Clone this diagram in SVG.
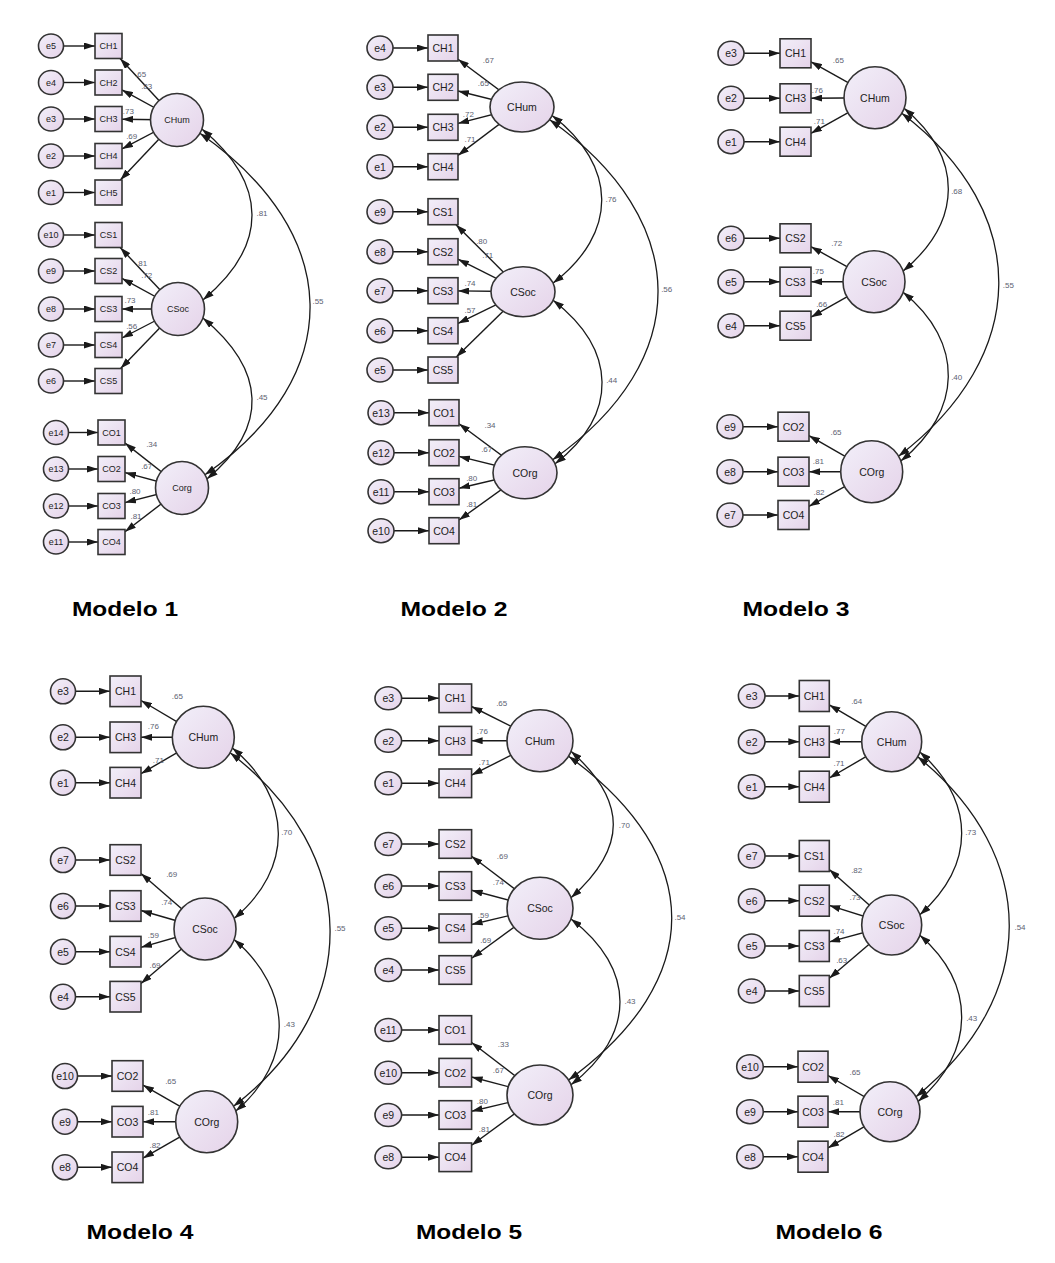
<svg xmlns="http://www.w3.org/2000/svg" width="1055" height="1263" viewBox="0 0 1055 1263">
<style>
.bg{fill:#fff}
.n{fill:url(#g);stroke:#333;stroke-width:1.6}
.c{stroke:#1a1a1a;stroke-width:1.4;fill:none;marker-end:url(#ah)}
.v{stroke:#1a1a1a;stroke-width:1.3;fill:none;marker-start:url(#ah);marker-end:url(#ah)}
.t{font-family:"Liberation Sans",Arial,sans-serif;font-size:10.5px;fill:#222;text-anchor:middle;dominant-baseline:central}
.s{font-size:9px}
.k{font-family:"Liberation Sans",Arial,sans-serif;font-size:8px;fill:#5c6272;text-anchor:middle;dominant-baseline:central}
.h{font-family:"Liberation Sans",Arial,sans-serif;font-size:21px;font-weight:bold;fill:#000;text-anchor:middle}
</style>
<defs>
<linearGradient id="g" x1="0" y1="0" x2="1" y2="1">
<stop offset="0" stop-color="#f2eff9"/>
<stop offset="1" stop-color="#e5d3e9"/>
</linearGradient>
<marker id="ah" viewBox="0 0 11 7" refX="11" refY="3.5" markerWidth="11" markerHeight="7" orient="auto-start-reverse" markerUnits="userSpaceOnUse">
<path d="M0 0L11 3.5L0 7z" fill="#1a1a1a"/>
</marker>
</defs>
<rect class="bg" x="0" y="0" width="1055" height="1263"/>

<!-- ================= MODELO 1 ================= -->
<g id="m1">
<g id="m1-connectors">
<path class="c" d="M63.5 46H95"/><path class="c" d="M63.5 82.5H95"/><path class="c" d="M63.5 119H95"/><path class="c" d="M63.5 156H95"/><path class="c" d="M63.5 192.5H95"/>
<path class="c" d="M63.5 235H95"/><path class="c" d="M63.5 271H95"/><path class="c" d="M63.5 309H95"/><path class="c" d="M63.5 345H95"/><path class="c" d="M63.5 381H95"/>
<path class="c" d="M68.5 432.5H98"/><path class="c" d="M68.5 469H98"/><path class="c" d="M68.5 506H98"/><path class="c" d="M68.5 542H98"/>
<path class="c" d="M177 120L120.1 58.5"/><path class="c" d="M177 120L122 89.9"/><path class="c" d="M177 120L122 119.2"/><path class="c" d="M177 120L122 148.9"/><path class="c" d="M177 120L120.3 180"/>
<path class="c" d="M178 309L120.2 247.5"/><path class="c" d="M178 309L122 278.4"/><path class="c" d="M178 309L122 309"/><path class="c" d="M178 309L122 338"/><path class="c" d="M178 309L120.6 368.5"/>
<path class="c" d="M182 488L125 443.1"/><path class="c" d="M182 488L125 472.6"/><path class="c" d="M182 488L125 502.6"/><path class="c" d="M182 488L125 531.7"/>
<path class="v" d="M201.9 129.1C268 184 269 245 202.9 299.9"/>
<path class="v" d="M202.9 318.1C265.7 370 269.7 427 206.9 478.9"/>
<path class="v" d="M199.9 133.3C343.4 233 348.4 375 204.9 474.8"/>
</g>
<g id="m1-labels">
<text class="k" x="140.7" y="74.3">.65</text><text class="k" x="146.7" y="86.7">.83</text><text class="k" x="128.3" y="111.7">.73</text><text class="k" x="131.7" y="136.7">.69</text>
<text class="k" x="141.7" y="263.3">.81</text><text class="k" x="146.7" y="275">.72</text><text class="k" x="130" y="300.7">.73</text><text class="k" x="131.7" y="326">.56</text>
<text class="k" x="151.7" y="444">.34</text><text class="k" x="146.7" y="466.7">.67</text><text class="k" x="135" y="491.7">.80</text><text class="k" x="136" y="516.7">.81</text>
<text class="k" x="262" y="213">.81</text><text class="k" x="262" y="397">.45</text><text class="k" x="318" y="301">.55</text>
</g>
<g id="m1-e5"><ellipse class="n" cx="51" cy="46" rx="12.5" ry="12"/><text class="t s" x="51" y="46">e5</text></g>
<g id="m1-e4"><ellipse class="n" cx="51" cy="82.5" rx="12.5" ry="12"/><text class="t s" x="51" y="82.5">e4</text></g>
<g id="m1-e3"><ellipse class="n" cx="51" cy="119" rx="12.5" ry="12"/><text class="t s" x="51" y="119">e3</text></g>
<g id="m1-e2"><ellipse class="n" cx="51" cy="156" rx="12.5" ry="12"/><text class="t s" x="51" y="156">e2</text></g>
<g id="m1-e1"><ellipse class="n" cx="51" cy="192.5" rx="12.5" ry="12"/><text class="t s" x="51" y="192.5">e1</text></g>
<g id="m1-e10"><ellipse class="n" cx="51" cy="235" rx="12.5" ry="12"/><text class="t s" x="51" y="235">e10</text></g>
<g id="m1-e9"><ellipse class="n" cx="51" cy="271" rx="12.5" ry="12"/><text class="t s" x="51" y="271">e9</text></g>
<g id="m1-e8"><ellipse class="n" cx="51" cy="309" rx="12.5" ry="12"/><text class="t s" x="51" y="309">e8</text></g>
<g id="m1-e7"><ellipse class="n" cx="51" cy="345" rx="12.5" ry="12"/><text class="t s" x="51" y="345">e7</text></g>
<g id="m1-e6"><ellipse class="n" cx="51" cy="381" rx="12.5" ry="12"/><text class="t s" x="51" y="381">e6</text></g>
<g id="m1-e14"><ellipse class="n" cx="56" cy="432.5" rx="12.5" ry="12"/><text class="t s" x="56" y="432.5">e14</text></g>
<g id="m1-e13"><ellipse class="n" cx="56" cy="469" rx="12.5" ry="12"/><text class="t s" x="56" y="469">e13</text></g>
<g id="m1-e12"><ellipse class="n" cx="56" cy="506" rx="12.5" ry="12"/><text class="t s" x="56" y="506">e12</text></g>
<g id="m1-e11"><ellipse class="n" cx="56" cy="542" rx="12.5" ry="12"/><text class="t s" x="56" y="542">e11</text></g>
<g id="m1-CH1"><rect class="n" x="95" y="33.5" width="27" height="25"/><text class="t s" x="108.5" y="46">CH1</text></g>
<g id="m1-CH2"><rect class="n" x="95" y="70" width="27" height="25"/><text class="t s" x="108.5" y="82.5">CH2</text></g>
<g id="m1-CH3"><rect class="n" x="95" y="106.5" width="27" height="25"/><text class="t s" x="108.5" y="119">CH3</text></g>
<g id="m1-CH4"><rect class="n" x="95" y="143.5" width="27" height="25"/><text class="t s" x="108.5" y="156">CH4</text></g>
<g id="m1-CH5"><rect class="n" x="95" y="180" width="27" height="25"/><text class="t s" x="108.5" y="192.5">CH5</text></g>
<g id="m1-CS1"><rect class="n" x="95" y="222.5" width="27" height="25"/><text class="t s" x="108.5" y="235">CS1</text></g>
<g id="m1-CS2"><rect class="n" x="95" y="258.5" width="27" height="25"/><text class="t s" x="108.5" y="271">CS2</text></g>
<g id="m1-CS3"><rect class="n" x="95" y="296.5" width="27" height="25"/><text class="t s" x="108.5" y="309">CS3</text></g>
<g id="m1-CS4"><rect class="n" x="95" y="332.5" width="27" height="25"/><text class="t s" x="108.5" y="345">CS4</text></g>
<g id="m1-CS5"><rect class="n" x="95" y="368.5" width="27" height="25"/><text class="t s" x="108.5" y="381">CS5</text></g>
<g id="m1-CO1"><rect class="n" x="98" y="420" width="27" height="25"/><text class="t s" x="111.5" y="432.5">CO1</text></g>
<g id="m1-CO2"><rect class="n" x="98" y="456.5" width="27" height="25"/><text class="t s" x="111.5" y="469">CO2</text></g>
<g id="m1-CO3"><rect class="n" x="98" y="493.5" width="27" height="25"/><text class="t s" x="111.5" y="506">CO3</text></g>
<g id="m1-CO4"><rect class="n" x="98" y="529.5" width="27" height="25"/><text class="t s" x="111.5" y="542">CO4</text></g>
<g id="m1-CHum"><ellipse class="n" cx="177" cy="120" rx="26.5" ry="26.5"/><text class="t s" x="177" y="120">CHum</text></g>
<g id="m1-CSoc"><ellipse class="n" cx="178" cy="309" rx="26.5" ry="26.5"/><text class="t s" x="178" y="309">CSoc</text></g>
<g id="m1-Corg"><ellipse class="n" cx="182" cy="488" rx="26.5" ry="26.5"/><text class="t s" x="182" y="488">Corg</text></g>
<text id="m1-title" class="h" x="125" y="616" textLength="106" lengthAdjust="spacingAndGlyphs">Modelo 1</text>
</g>

<!-- ================= MODELO 2 ================= -->
<g id="m2">
<g id="m2-connectors">
<path class="c" d="M393 48H428"/><path class="c" d="M393 87.3H428"/><path class="c" d="M393 127.3H428"/><path class="c" d="M393 166.7H428"/>
<path class="c" d="M393 211.7H428"/><path class="c" d="M393 251.7H428"/><path class="c" d="M393 290.7H428"/><path class="c" d="M393 330.7H428"/><path class="c" d="M393 370H428"/>
<path class="c" d="M394 412.7H429"/><path class="c" d="M394 452.7H429"/><path class="c" d="M394 491.7H429"/><path class="c" d="M394 530.7H429"/>
<path class="c" d="M522 107L458 59.2"/><path class="c" d="M522 107L458 91"/><path class="c" d="M522 107L458 123.4"/><path class="c" d="M522 107L458 155.4"/>
<path class="c" d="M523 291.7L456 224.7"/><path class="c" d="M523 291.7L458 259.2"/><path class="c" d="M523 291.7L458 290.9"/><path class="c" d="M523 291.7L458 323.4"/><path class="c" d="M523 291.7L456.3 357"/>
<path class="c" d="M525 472.7L459 423.8"/><path class="c" d="M525 472.7L459 456.4"/><path class="c" d="M525 472.7L459 488.2"/><path class="c" d="M525 472.7L459 520"/>
<path class="v" d="M552.1 115.6C617.6 165.6 618.6 233.1 553.1 283.1"/>
<path class="v" d="M553.1 300.3C617 350 619 414 555.1 463.8"/>
<path class="v" d="M549.7 119.8C692.1 219.8 695.1 359.7 552.7 459.7"/>
</g>
<g id="m2-labels">
<text class="k" x="488.3" y="60">.67</text><text class="k" x="483.3" y="83.3">.65</text><text class="k" x="468.3" y="114">.72</text><text class="k" x="470" y="139.3">.71</text>
<text class="k" x="481.7" y="241.7">.80</text><text class="k" x="487.7" y="255">.71</text><text class="k" x="470" y="283.3">.74</text><text class="k" x="470" y="310.7">.57</text>
<text class="k" x="490" y="425">.34</text><text class="k" x="486.7" y="449.3">.67</text><text class="k" x="471.7" y="478.3">.80</text><text class="k" x="471.7" y="504">.81</text>
<text class="k" x="611" y="199">.76</text><text class="k" x="611.7" y="380.7">.44</text><text class="k" x="666.7" y="289.3">.56</text>
</g>
<g id="m2-e4"><ellipse class="n" cx="380" cy="48" rx="13" ry="12"/><text class="t" x="380" y="48">e4</text></g>
<g id="m2-e3"><ellipse class="n" cx="380" cy="87.3" rx="13" ry="12"/><text class="t" x="380" y="87.3">e3</text></g>
<g id="m2-e2"><ellipse class="n" cx="380" cy="127.3" rx="13" ry="12"/><text class="t" x="380" y="127.3">e2</text></g>
<g id="m2-e1"><ellipse class="n" cx="380" cy="166.7" rx="13" ry="12"/><text class="t" x="380" y="166.7">e1</text></g>
<g id="m2-e9"><ellipse class="n" cx="380" cy="211.7" rx="13" ry="12"/><text class="t" x="380" y="211.7">e9</text></g>
<g id="m2-e8"><ellipse class="n" cx="380" cy="251.7" rx="13" ry="12"/><text class="t" x="380" y="251.7">e8</text></g>
<g id="m2-e7"><ellipse class="n" cx="380" cy="290.7" rx="13" ry="12"/><text class="t" x="380" y="290.7">e7</text></g>
<g id="m2-e6"><ellipse class="n" cx="380" cy="330.7" rx="13" ry="12"/><text class="t" x="380" y="330.7">e6</text></g>
<g id="m2-e5"><ellipse class="n" cx="380" cy="370" rx="13" ry="12"/><text class="t" x="380" y="370">e5</text></g>
<g id="m2-e13"><ellipse class="n" cx="381" cy="412.7" rx="13" ry="12"/><text class="t" x="381" y="412.7">e13</text></g>
<g id="m2-e12"><ellipse class="n" cx="381" cy="452.7" rx="13" ry="12"/><text class="t" x="381" y="452.7">e12</text></g>
<g id="m2-e11"><ellipse class="n" cx="381" cy="491.7" rx="13" ry="12"/><text class="t" x="381" y="491.7">e11</text></g>
<g id="m2-e10"><ellipse class="n" cx="381" cy="530.7" rx="13" ry="12"/><text class="t" x="381" y="530.7">e10</text></g>
<g id="m2-CH1"><rect class="n" x="428" y="35" width="30" height="26"/><text class="t" x="443" y="48">CH1</text></g>
<g id="m2-CH2"><rect class="n" x="428" y="74.3" width="30" height="26"/><text class="t" x="443" y="87.3">CH2</text></g>
<g id="m2-CH3"><rect class="n" x="428" y="114.3" width="30" height="26"/><text class="t" x="443" y="127.3">CH3</text></g>
<g id="m2-CH4"><rect class="n" x="428" y="153.7" width="30" height="26"/><text class="t" x="443" y="166.7">CH4</text></g>
<g id="m2-CS1"><rect class="n" x="428" y="198.7" width="30" height="26"/><text class="t" x="443" y="211.7">CS1</text></g>
<g id="m2-CS2"><rect class="n" x="428" y="238.7" width="30" height="26"/><text class="t" x="443" y="251.7">CS2</text></g>
<g id="m2-CS3"><rect class="n" x="428" y="277.7" width="30" height="26"/><text class="t" x="443" y="290.7">CS3</text></g>
<g id="m2-CS4"><rect class="n" x="428" y="317.7" width="30" height="26"/><text class="t" x="443" y="330.7">CS4</text></g>
<g id="m2-CS5"><rect class="n" x="428" y="357" width="30" height="26"/><text class="t" x="443" y="370">CS5</text></g>
<g id="m2-CO1"><rect class="n" x="429" y="399.7" width="30" height="26"/><text class="t" x="444" y="412.7">CO1</text></g>
<g id="m2-CO2"><rect class="n" x="429" y="439.7" width="30" height="26"/><text class="t" x="444" y="452.7">CO2</text></g>
<g id="m2-CO3"><rect class="n" x="429" y="478.7" width="30" height="26"/><text class="t" x="444" y="491.7">CO3</text></g>
<g id="m2-CO4"><rect class="n" x="429" y="517.7" width="30" height="26"/><text class="t" x="444" y="530.7">CO4</text></g>
<g id="m2-CHum"><ellipse class="n" cx="522" cy="107" rx="32" ry="25"/><text class="t" x="522" y="107">CHum</text></g>
<g id="m2-CSoc"><ellipse class="n" cx="523" cy="291.7" rx="32" ry="25"/><text class="t" x="523" y="291.7">CSoc</text></g>
<g id="m2-COrg"><ellipse class="n" cx="525" cy="472.7" rx="32" ry="26"/><text class="t" x="525" y="472.7">COrg</text></g>
<text id="m2-title" class="h" x="454" y="616" textLength="107" lengthAdjust="spacingAndGlyphs">Modelo 2</text>
</g>

<!-- ================= MODELO 3 ================= -->
<g id="m3">
<g id="m3-connectors">
<path class="c" d="M744 53.3H780"/><path class="c" d="M744 98.3H780"/><path class="c" d="M744 141.7H780"/>
<path class="c" d="M744 238.3H780"/><path class="c" d="M744 281.7H780"/><path class="c" d="M744 325.7H780"/>
<path class="c" d="M743 426.7H778"/><path class="c" d="M743 471.7H778"/><path class="c" d="M743 515H778"/>
<path class="c" d="M875 97.7L811 61.8"/><path class="c" d="M875 97.7L811 98.2"/><path class="c" d="M875 97.7L811 133.3"/>
<path class="c" d="M874 281.7L811 246.7"/><path class="c" d="M874 281.7L811 281.7"/><path class="c" d="M874 281.7L811 317.2"/>
<path class="c" d="M871.7 471.7L809 435.7"/><path class="c" d="M871.7 471.7L809 471.7"/><path class="c" d="M871.7 471.7L809 506.3"/>
<path class="v" d="M904.1 108.3C963.7 158.3 962.7 221.1 903.1 271.1"/>
<path class="v" d="M903.1 292.3C964.9 342.3 962.6 411.1 900.8 461.1"/>
<path class="v" d="M901.8 113.2C1033.3 213.2 1030 356.2 898.5 456.2"/>
</g>
<g id="m3-labels">
<text class="k" x="838.3" y="60">.65</text><text class="k" x="817.3" y="90">.76</text><text class="k" x="819.3" y="121">.71</text>
<text class="k" x="836.7" y="243.3">.72</text><text class="k" x="818.3" y="271">.75</text><text class="k" x="821.7" y="304">.66</text>
<text class="k" x="836" y="432.3">.65</text><text class="k" x="818.3" y="461.7">.81</text><text class="k" x="819" y="492.7">.82</text>
<text class="k" x="956.7" y="191.7">.68</text><text class="k" x="956.7" y="377.3">.40</text><text class="k" x="1008.3" y="285">.55</text>
</g>
<g id="m3-e3"><ellipse class="n" cx="731" cy="53.3" rx="13" ry="12"/><text class="t" x="731" y="53.3">e3</text></g>
<g id="m3-e2"><ellipse class="n" cx="731" cy="98.3" rx="13" ry="12"/><text class="t" x="731" y="98.3">e2</text></g>
<g id="m3-e1"><ellipse class="n" cx="731" cy="141.7" rx="13" ry="12"/><text class="t" x="731" y="141.7">e1</text></g>
<g id="m3-e6"><ellipse class="n" cx="731" cy="238.3" rx="13" ry="12"/><text class="t" x="731" y="238.3">e6</text></g>
<g id="m3-e5"><ellipse class="n" cx="731" cy="281.7" rx="13" ry="12"/><text class="t" x="731" y="281.7">e5</text></g>
<g id="m3-e4"><ellipse class="n" cx="731" cy="325.7" rx="13" ry="12"/><text class="t" x="731" y="325.7">e4</text></g>
<g id="m3-e9"><ellipse class="n" cx="730" cy="426.7" rx="13" ry="12"/><text class="t" x="730" y="426.7">e9</text></g>
<g id="m3-e8"><ellipse class="n" cx="730" cy="471.7" rx="13" ry="12"/><text class="t" x="730" y="471.7">e8</text></g>
<g id="m3-e7"><ellipse class="n" cx="730" cy="515" rx="13" ry="12"/><text class="t" x="730" y="515">e7</text></g>
<g id="m3-CH1"><rect class="n" x="780" y="38.8" width="31" height="29"/><text class="t" x="795.5" y="53.3">CH1</text></g>
<g id="m3-CH3"><rect class="n" x="780" y="83.8" width="31" height="29"/><text class="t" x="795.5" y="98.3">CH3</text></g>
<g id="m3-CH4"><rect class="n" x="780" y="127.2" width="31" height="29"/><text class="t" x="795.5" y="141.7">CH4</text></g>
<g id="m3-CS2"><rect class="n" x="780" y="223.8" width="31" height="29"/><text class="t" x="795.5" y="238.3">CS2</text></g>
<g id="m3-CS3"><rect class="n" x="780" y="267.2" width="31" height="29"/><text class="t" x="795.5" y="281.7">CS3</text></g>
<g id="m3-CS5"><rect class="n" x="780" y="311.2" width="31" height="29"/><text class="t" x="795.5" y="325.7">CS5</text></g>
<g id="m3-CO2"><rect class="n" x="778" y="412.2" width="31" height="29"/><text class="t" x="793.5" y="426.7">CO2</text></g>
<g id="m3-CO3"><rect class="n" x="778" y="457.2" width="31" height="29"/><text class="t" x="793.5" y="471.7">CO3</text></g>
<g id="m3-CO4"><rect class="n" x="778" y="500.5" width="31" height="29"/><text class="t" x="793.5" y="515">CO4</text></g>
<g id="m3-CHum"><ellipse class="n" cx="875" cy="97.7" rx="31" ry="31"/><text class="t" x="875" y="97.7">CHum</text></g>
<g id="m3-CSoc"><ellipse class="n" cx="874" cy="281.7" rx="31" ry="31"/><text class="t" x="874" y="281.7">CSoc</text></g>
<g id="m3-COrg"><ellipse class="n" cx="871.7" cy="471.7" rx="31" ry="31"/><text class="t" x="871.7" y="471.7">COrg</text></g>
<text id="m3-title" class="h" x="796" y="616" textLength="107" lengthAdjust="spacingAndGlyphs">Modelo 3</text>
</g>

<!-- ================= MODELO 4 ================= -->
<g id="m4">
<g id="m4-connectors">
<path class="c" d="M75.5 691.3H110"/><path class="c" d="M75.5 737.3H110"/><path class="c" d="M75.5 782.7H110"/>
<path class="c" d="M75.5 860H110"/><path class="c" d="M75.5 906H110"/><path class="c" d="M75.5 951.7H110"/><path class="c" d="M75.5 996.7H110"/>
<path class="c" d="M77.5 1076H112"/><path class="c" d="M77.5 1121.7H112"/><path class="c" d="M77.5 1167.3H112"/>
<path class="c" d="M203.3 737.3L141 700.5"/><path class="c" d="M203.3 737.3L141 737.3"/><path class="c" d="M203.3 737.3L141 773.7"/>
<path class="c" d="M205 929L141 873.5"/><path class="c" d="M205 929L141 910.5"/><path class="c" d="M205 929L141 947.3"/><path class="c" d="M205 929L141 983.5"/>
<path class="c" d="M206.7 1121.7L143 1085.1"/><path class="c" d="M206.7 1121.7L143 1121.7"/><path class="c" d="M206.7 1121.7L143 1158.2"/>
<path class="v" d="M232.4 747.9C292.5 797.9 294.2 868.4 234.1 918.4"/>
<path class="v" d="M234.1 939.6C293.1 989.6 294.8 1061.1 235.8 1111.1"/>
<path class="v" d="M230.1 752.8C361.1 852.8 364.5 1006.2 233.5 1106.2"/>
</g>
<g id="m4-labels">
<text class="k" x="177.3" y="696">.65</text><text class="k" x="153.3" y="726.7">.76</text><text class="k" x="158.3" y="760">.71</text>
<text class="k" x="171.7" y="874">.69</text><text class="k" x="166.7" y="902.7">.74</text><text class="k" x="153.3" y="935">.59</text><text class="k" x="155" y="965">.69</text>
<text class="k" x="170.7" y="1081.7">.65</text><text class="k" x="153.3" y="1112.7">.81</text><text class="k" x="155" y="1145">.82</text>
<text class="k" x="286.7" y="832.7">.70</text><text class="k" x="289.3" y="1024">.43</text><text class="k" x="340" y="928.3">.55</text>
</g>
<g id="m4-e3"><ellipse class="n" cx="63" cy="691.3" rx="12.5" ry="12.5"/><text class="t" x="63" y="691.3">e3</text></g>
<g id="m4-e2"><ellipse class="n" cx="63" cy="737.3" rx="12.5" ry="12.5"/><text class="t" x="63" y="737.3">e2</text></g>
<g id="m4-e1"><ellipse class="n" cx="63" cy="782.7" rx="12.5" ry="12.5"/><text class="t" x="63" y="782.7">e1</text></g>
<g id="m4-e7"><ellipse class="n" cx="63" cy="860" rx="12.5" ry="12.5"/><text class="t" x="63" y="860">e7</text></g>
<g id="m4-e6"><ellipse class="n" cx="63" cy="906" rx="12.5" ry="12.5"/><text class="t" x="63" y="906">e6</text></g>
<g id="m4-e5"><ellipse class="n" cx="63" cy="951.7" rx="12.5" ry="12.5"/><text class="t" x="63" y="951.7">e5</text></g>
<g id="m4-e4"><ellipse class="n" cx="63" cy="996.7" rx="12.5" ry="12.5"/><text class="t" x="63" y="996.7">e4</text></g>
<g id="m4-e10"><ellipse class="n" cx="65" cy="1076" rx="12.5" ry="12.5"/><text class="t" x="65" y="1076">e10</text></g>
<g id="m4-e9"><ellipse class="n" cx="65" cy="1121.7" rx="12.5" ry="12.5"/><text class="t" x="65" y="1121.7">e9</text></g>
<g id="m4-e8"><ellipse class="n" cx="65" cy="1167.3" rx="12.5" ry="12.5"/><text class="t" x="65" y="1167.3">e8</text></g>
<g id="m4-CH1"><rect class="n" x="110" y="676" width="31" height="30.6"/><text class="t" x="125.5" y="691.3">CH1</text></g>
<g id="m4-CH3"><rect class="n" x="110" y="722" width="31" height="30.6"/><text class="t" x="125.5" y="737.3">CH3</text></g>
<g id="m4-CH4"><rect class="n" x="110" y="767.4" width="31" height="30.6"/><text class="t" x="125.5" y="782.7">CH4</text></g>
<g id="m4-CS2"><rect class="n" x="110" y="844.7" width="31" height="30.6"/><text class="t" x="125.5" y="860">CS2</text></g>
<g id="m4-CS3"><rect class="n" x="110" y="890.7" width="31" height="30.6"/><text class="t" x="125.5" y="906">CS3</text></g>
<g id="m4-CS4"><rect class="n" x="110" y="936.4" width="31" height="30.6"/><text class="t" x="125.5" y="951.7">CS4</text></g>
<g id="m4-CS5"><rect class="n" x="110" y="981.4" width="31" height="30.6"/><text class="t" x="125.5" y="996.7">CS5</text></g>
<g id="m4-CO2"><rect class="n" x="112" y="1060.7" width="31" height="30.6"/><text class="t" x="127.5" y="1076">CO2</text></g>
<g id="m4-CO3"><rect class="n" x="112" y="1106.4" width="31" height="30.6"/><text class="t" x="127.5" y="1121.7">CO3</text></g>
<g id="m4-CO4"><rect class="n" x="112" y="1152" width="31" height="30.6"/><text class="t" x="127.5" y="1167.3">CO4</text></g>
<g id="m4-CHum"><ellipse class="n" cx="203.3" cy="737.3" rx="31" ry="31"/><text class="t" x="203.3" y="737.3">CHum</text></g>
<g id="m4-CSoc"><ellipse class="n" cx="205" cy="929" rx="31" ry="31"/><text class="t" x="205" y="929">CSoc</text></g>
<g id="m4-COrg"><ellipse class="n" cx="206.7" cy="1121.7" rx="31" ry="31"/><text class="t" x="206.7" y="1121.7">COrg</text></g>
<text id="m4-title" class="h" x="140" y="1239" textLength="107" lengthAdjust="spacingAndGlyphs">Modelo 4</text>
</g>

<!-- ================= MODELO 5 ================= -->
<g id="m5">
<g id="m5-connectors">
<path class="c" d="M401.6 698.3H439"/><path class="c" d="M401.6 740.7H439"/><path class="c" d="M401.6 783.3H439"/>
<path class="c" d="M401.6 844H439"/><path class="c" d="M401.6 886H439"/><path class="c" d="M401.6 928.3H439"/><path class="c" d="M401.6 970H439"/>
<path class="c" d="M401.6 1030H439"/><path class="c" d="M401.6 1072.7H439"/><path class="c" d="M401.6 1115H439"/><path class="c" d="M401.6 1157.3H439"/>
<path class="c" d="M540 740.7L471.6 706.5"/><path class="c" d="M540 740.7L471.6 740.7"/><path class="c" d="M540 740.7L471.6 775.1"/>
<path class="c" d="M540 908.3L471.6 856.3"/><path class="c" d="M540 908.3L471.6 890.3"/><path class="c" d="M540 908.3L471.6 924.5"/><path class="c" d="M540 908.3L471.6 958.2"/>
<path class="c" d="M540 1095L471.6 1042.5"/><path class="c" d="M540 1095L471.6 1077"/><path class="c" d="M540 1095L471.6 1111.2"/><path class="c" d="M540 1095L471.6 1145.3"/>
<path class="v" d="M571 751.3C627.4 801.3 627.4 847.7 571 897.7"/>
<path class="v" d="M571 918.9C636.3 968.9 636.3 1034.7 571 1084.7"/>
<path class="v" d="M568.6 756.2C706.1 856.2 706.1 980 568.6 1080"/>
</g>
<g id="m5-labels">
<text class="k" x="501.7" y="703.3">.65</text><text class="k" x="482.3" y="731.7">.76</text><text class="k" x="484.3" y="762.7">.71</text>
<text class="k" x="502.3" y="856.7">.69</text><text class="k" x="498.3" y="882.7">.74</text><text class="k" x="483.3" y="915">.59</text><text class="k" x="485.7" y="940.7">.69</text>
<text class="k" x="503.3" y="1044">.33</text><text class="k" x="498.3" y="1070">.67</text><text class="k" x="482.3" y="1101">.80</text><text class="k" x="484.3" y="1129.3">.81</text>
<text class="k" x="624.3" y="825">.70</text><text class="k" x="630" y="1001.7">.43</text><text class="k" x="680" y="917.3">.54</text>
</g>
<g id="m5-e3"><ellipse class="n" cx="388.3" cy="698.3" rx="13.3" ry="11.5"/><text class="t" x="388.3" y="698.3">e3</text></g>
<g id="m5-e2"><ellipse class="n" cx="388.3" cy="740.7" rx="13.3" ry="11.5"/><text class="t" x="388.3" y="740.7">e2</text></g>
<g id="m5-e1"><ellipse class="n" cx="388.3" cy="783.3" rx="13.3" ry="11.5"/><text class="t" x="388.3" y="783.3">e1</text></g>
<g id="m5-e7"><ellipse class="n" cx="388.3" cy="844" rx="13.3" ry="11.5"/><text class="t" x="388.3" y="844">e7</text></g>
<g id="m5-e6"><ellipse class="n" cx="388.3" cy="886" rx="13.3" ry="11.5"/><text class="t" x="388.3" y="886">e6</text></g>
<g id="m5-e5"><ellipse class="n" cx="388.3" cy="928.3" rx="13.3" ry="11.5"/><text class="t" x="388.3" y="928.3">e5</text></g>
<g id="m5-e4"><ellipse class="n" cx="388.3" cy="970" rx="13.3" ry="11.5"/><text class="t" x="388.3" y="970">e4</text></g>
<g id="m5-e11"><ellipse class="n" cx="388.3" cy="1030" rx="13.3" ry="11.5"/><text class="t" x="388.3" y="1030">e11</text></g>
<g id="m5-e10"><ellipse class="n" cx="388.3" cy="1072.7" rx="13.3" ry="11.5"/><text class="t" x="388.3" y="1072.7">e10</text></g>
<g id="m5-e9"><ellipse class="n" cx="388.3" cy="1115" rx="13.3" ry="11.5"/><text class="t" x="388.3" y="1115">e9</text></g>
<g id="m5-e8"><ellipse class="n" cx="388.3" cy="1157.3" rx="13.3" ry="11.5"/><text class="t" x="388.3" y="1157.3">e8</text></g>
<g id="m5-CH1"><rect class="n" x="439" y="684" width="32.6" height="28.6"/><text class="t" x="455.3" y="698.3">CH1</text></g>
<g id="m5-CH3"><rect class="n" x="439" y="726.4" width="32.6" height="28.6"/><text class="t" x="455.3" y="740.7">CH3</text></g>
<g id="m5-CH4"><rect class="n" x="439" y="769" width="32.6" height="28.6"/><text class="t" x="455.3" y="783.3">CH4</text></g>
<g id="m5-CS2"><rect class="n" x="439" y="829.7" width="32.6" height="28.6"/><text class="t" x="455.3" y="844">CS2</text></g>
<g id="m5-CS3"><rect class="n" x="439" y="871.7" width="32.6" height="28.6"/><text class="t" x="455.3" y="886">CS3</text></g>
<g id="m5-CS4"><rect class="n" x="439" y="914" width="32.6" height="28.6"/><text class="t" x="455.3" y="928.3">CS4</text></g>
<g id="m5-CS5"><rect class="n" x="439" y="955.7" width="32.6" height="28.6"/><text class="t" x="455.3" y="970">CS5</text></g>
<g id="m5-CO1"><rect class="n" x="439" y="1015.7" width="32.6" height="28.6"/><text class="t" x="455.3" y="1030">CO1</text></g>
<g id="m5-CO2"><rect class="n" x="439" y="1058.4" width="32.6" height="28.6"/><text class="t" x="455.3" y="1072.7">CO2</text></g>
<g id="m5-CO3"><rect class="n" x="439" y="1100.7" width="32.6" height="28.6"/><text class="t" x="455.3" y="1115">CO3</text></g>
<g id="m5-CO4"><rect class="n" x="439" y="1143" width="32.6" height="28.6"/><text class="t" x="455.3" y="1157.3">CO4</text></g>
<g id="m5-CHum"><ellipse class="n" cx="540" cy="740.7" rx="33" ry="31"/><text class="t" x="540" y="740.7">CHum</text></g>
<g id="m5-CSoc"><ellipse class="n" cx="540" cy="908.3" rx="33" ry="31"/><text class="t" x="540" y="908.3">CSoc</text></g>
<g id="m5-COrg"><ellipse class="n" cx="540" cy="1095" rx="33" ry="30"/><text class="t" x="540" y="1095">COrg</text></g>
<text id="m5-title" class="h" x="469" y="1239" textLength="106" lengthAdjust="spacingAndGlyphs">Modelo 5</text>
</g>

<!-- ================= MODELO 6 ================= -->
<g id="m6">
<g id="m6-connectors">
<path class="c" d="M765 696H799.3"/><path class="c" d="M765 741.7H799.3"/><path class="c" d="M765 786.7H799.3"/>
<path class="c" d="M765 856H799.3"/><path class="c" d="M765 900.7H799.3"/><path class="c" d="M765 946H799.3"/><path class="c" d="M765 991H799.3"/>
<path class="c" d="M763.3 1066.7H798"/><path class="c" d="M763.3 1111.7H798"/><path class="c" d="M763.3 1156.7H798"/>
<path class="c" d="M891.7 741.7L829.3 704.9"/><path class="c" d="M891.7 741.7L829.3 741.7"/><path class="c" d="M891.7 741.7L829.3 778"/>
<path class="c" d="M891.7 925L829.3 869.4"/><path class="c" d="M891.7 925L829.3 905.4"/><path class="c" d="M891.7 925L829.3 941.9"/><path class="c" d="M891.7 925L829.3 978.2"/>
<path class="c" d="M890 1111.7L828 1075.5"/><path class="c" d="M890 1111.7L828 1111.7"/><path class="c" d="M890 1111.7L828 1147.9"/>
<path class="v" d="M919.9 752C975.6 802 975.6 864.7 919.9 914.7"/>
<path class="v" d="M919.9 935.3C976.7 985.3 975 1051.4 918.2 1101.4"/>
<path class="v" d="M917.7 756.7C1040.9 856.7 1039.2 996.7 916 1096.7"/>
</g>
<g id="m6-labels">
<text class="k" x="856.7" y="701.7">.64</text><text class="k" x="839.3" y="731.7">.77</text><text class="k" x="839" y="763.3">.71</text>
<text class="k" x="856.7" y="870">.82</text><text class="k" x="855" y="897.7">.73</text><text class="k" x="839" y="931.7">.74</text><text class="k" x="841.7" y="960">.63</text>
<text class="k" x="855" y="1072.7">.65</text><text class="k" x="838.3" y="1102.7">.81</text><text class="k" x="839" y="1134">.82</text>
<text class="k" x="970.7" y="832.7">.73</text><text class="k" x="971.7" y="1018.3">.43</text><text class="k" x="1020" y="927.3">.54</text>
</g>
<g id="m6-e3"><ellipse class="n" cx="751.7" cy="696" rx="13.3" ry="12"/><text class="t" x="751.7" y="696">e3</text></g>
<g id="m6-e2"><ellipse class="n" cx="751.7" cy="741.7" rx="13.3" ry="12"/><text class="t" x="751.7" y="741.7">e2</text></g>
<g id="m6-e1"><ellipse class="n" cx="751.7" cy="786.7" rx="13.3" ry="12"/><text class="t" x="751.7" y="786.7">e1</text></g>
<g id="m6-e7"><ellipse class="n" cx="751.7" cy="856" rx="13.3" ry="12"/><text class="t" x="751.7" y="856">e7</text></g>
<g id="m6-e6"><ellipse class="n" cx="751.7" cy="900.7" rx="13.3" ry="12"/><text class="t" x="751.7" y="900.7">e6</text></g>
<g id="m6-e5"><ellipse class="n" cx="751.7" cy="946" rx="13.3" ry="12"/><text class="t" x="751.7" y="946">e5</text></g>
<g id="m6-e4"><ellipse class="n" cx="751.7" cy="991" rx="13.3" ry="12"/><text class="t" x="751.7" y="991">e4</text></g>
<g id="m6-e10"><ellipse class="n" cx="750" cy="1066.7" rx="13.3" ry="12"/><text class="t" x="750" y="1066.7">e10</text></g>
<g id="m6-e9"><ellipse class="n" cx="750" cy="1111.7" rx="13.3" ry="12"/><text class="t" x="750" y="1111.7">e9</text></g>
<g id="m6-e8"><ellipse class="n" cx="750" cy="1156.7" rx="13.3" ry="12"/><text class="t" x="750" y="1156.7">e8</text></g>
<g id="m6-CH1"><rect class="n" x="799.3" y="680.5" width="30" height="31"/><text class="t" x="814.3" y="696">CH1</text></g>
<g id="m6-CH3"><rect class="n" x="799.3" y="726.2" width="30" height="31"/><text class="t" x="814.3" y="741.7">CH3</text></g>
<g id="m6-CH4"><rect class="n" x="799.3" y="771.2" width="30" height="31"/><text class="t" x="814.3" y="786.7">CH4</text></g>
<g id="m6-CS1"><rect class="n" x="799.3" y="840.5" width="30" height="31"/><text class="t" x="814.3" y="856">CS1</text></g>
<g id="m6-CS2"><rect class="n" x="799.3" y="885.2" width="30" height="31"/><text class="t" x="814.3" y="900.7">CS2</text></g>
<g id="m6-CS3"><rect class="n" x="799.3" y="930.5" width="30" height="31"/><text class="t" x="814.3" y="946">CS3</text></g>
<g id="m6-CS5"><rect class="n" x="799.3" y="975.5" width="30" height="31"/><text class="t" x="814.3" y="991">CS5</text></g>
<g id="m6-CO2"><rect class="n" x="798" y="1051.2" width="30" height="31"/><text class="t" x="813" y="1066.7">CO2</text></g>
<g id="m6-CO3"><rect class="n" x="798" y="1096.2" width="30" height="31"/><text class="t" x="813" y="1111.7">CO3</text></g>
<g id="m6-CO4"><rect class="n" x="798" y="1141.2" width="30" height="31"/><text class="t" x="813" y="1156.7">CO4</text></g>
<g id="m6-CHum"><ellipse class="n" cx="891.7" cy="741.7" rx="30" ry="30"/><text class="t" x="891.7" y="741.7">CHum</text></g>
<g id="m6-CSoc"><ellipse class="n" cx="891.7" cy="925" rx="30" ry="30"/><text class="t" x="891.7" y="925">CSoc</text></g>
<g id="m6-COrg"><ellipse class="n" cx="890" cy="1111.7" rx="30" ry="30"/><text class="t" x="890" y="1111.7">COrg</text></g>
<text id="m6-title" class="h" x="829" y="1239" textLength="107" lengthAdjust="spacingAndGlyphs">Modelo 6</text>
</g>
</svg>
